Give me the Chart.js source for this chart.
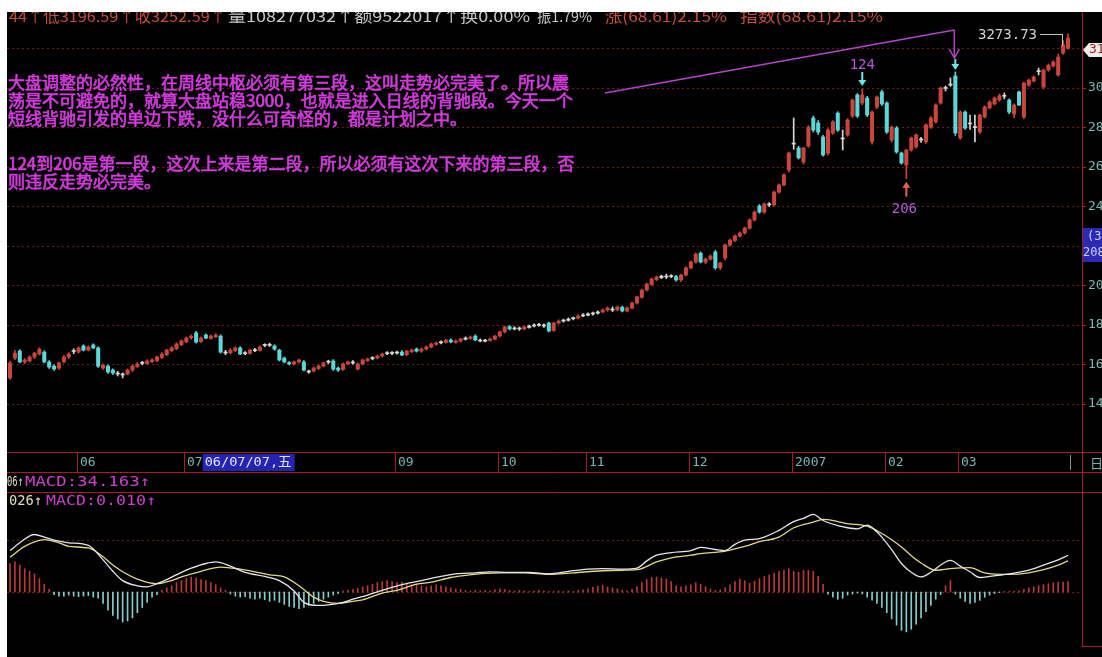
<!DOCTYPE html>
<html>
<head>
<meta charset="utf-8">
<title>上证指数 日线</title>
<script src="https://cdn.jsdelivr.net/npm/chart.js"></script>
<style>
  html, body { margin: 0; padding: 0; background: #fff; }
  #wrap { position: absolute; left: 7px; top: 12px; width: 1095px; height: 645px; background: #000; }
  canvas { display: block; }
</style>
</head>
<body>
<div id="wrap"><canvas id="kChart" width="1095" height="645"></canvas></div>
<script>
// page offset of the canvas (white strip on top and left)
const OX = 7, OY = 12;

// daily candles, May 2006 - Apr 2007
const opens = [
  1532,1633,1668,1613,1618,1638,1653,1663,1613,1592,
  1582,1613,1638,1666,1663,1694,1673,1699,1684,1582,
  1592,1572,1553,1548,1552,1572,1590,1606,1605,1615,
  1620,1636,1650,1670,1680,1700,1715,1736,1760,1716,
  1749,1732,1740,1744,1658,1660,1670,1684,1655,1656,
  1670,1672,1697,1697,1694,1673,1633,1610,1603,1613,
  1613,1562,1567,1580,1592,1612,1618,1582,1575,1603,
  1610,1577,1603,1620,1630,1633,1643,1655,1656,1658,
  1663,1650,1665,1678,1668,1678,1688,1702,1710,1712,
  1724,1712,1718,1728,1732,1744,1724,1718,1722,1728,
  1744,1765,1792,1780,1782,1780,1788,1795,1798,1797,
  1810,1772,1810,1820,1824,1832,1835,1846,1850,1856,
  1860,1866,1876,1880,1876,1890,1871,1886,1911,1940,
  1977,2005,2030,2040,2045,2045,2045,2028,2053,2089,
  2119,2164,2119,2134,2170,2090,2139,2205,2228,2250,
  2266,2290,2332,2403,2372,2410,2408,2473,2509,2585,
  2716,2696,2625,2706,2848,2823,2752,2671,2772,2873,
  2747,2762,2858,2965,2924,2949,2727,2904,2980,2924,
  2737,2797,2671,2610,2686,2701,2742,2727,2802,2828,
  2924,2998,3015,3061,2747,2878,2818,2800,2777,2853,
  2899,2919,2940,2958,2939,2868,2980,2853,3015,3035,
  3083,3005,3091,3112,3066,3177,3200
];
const highs = [
  1618,1672,1675,1630,1645,1662,1685,1670,1620,1598,
  1612,1645,1660,1680,1690,1700,1695,1705,1690,1602,
  1598,1578,1565,1558,1578,1598,1610,1616,1625,1630,
  1643,1660,1678,1690,1710,1725,1740,1750,1768,1740,
  1755,1750,1757,1750,1672,1680,1690,1690,1665,1678,
  1682,1695,1705,1708,1700,1678,1638,1615,1618,1628,
  1620,1572,1588,1598,1612,1622,1625,1588,1608,1618,
  1620,1608,1628,1633,1640,1648,1658,1665,1666,1668,
  1670,1672,1678,1684,1685,1695,1708,1714,1720,1728,
  1730,1725,1734,1740,1745,1750,1730,1728,1734,1748,
  1770,1795,1798,1792,1790,1796,1800,1806,1808,1806,
  1815,1815,1826,1830,1836,1840,1852,1858,1862,1866,
  1872,1882,1892,1892,1896,1896,1892,1916,1946,1982,
  2012,2038,2048,2052,2058,2055,2052,2058,2095,2125,
  2165,2170,2140,2155,2178,2118,2210,2235,2256,2272,
  2296,2338,2378,2410,2418,2420,2478,2515,2565,2676,
  2848,2705,2700,2810,2858,2835,2760,2795,2835,2880,
  2787,2845,2945,2972,2995,2958,2885,2960,2990,2930,
  2808,2805,2676,2690,2752,2768,2750,2818,2855,2920,
  3005,3010,3051,3081,2885,2885,2863,2863,2868,2910,
  2935,2955,2970,2975,2945,2920,2985,3030,3045,3062,
  3101,3096,3122,3138,3172,3240,3273.73
];
const lows = [
  1525,1625,1608,1605,1612,1630,1648,1608,1580,1570,
  1575,1608,1630,1655,1658,1668,1668,1680,1585,1575,
  1555,1550,1542,1532,1548,1565,1585,1598,1600,1610,
  1615,1630,1645,1665,1675,1695,1710,1728,1708,1712,
  1730,1728,1736,1658,1650,1655,1665,1650,1648,1652,
  1665,1668,1690,1692,1672,1618,1608,1598,1598,1608,
  1567,1555,1562,1575,1588,1605,1570,1565,1570,1598,
  1602,1572,1598,1615,1624,1628,1638,1650,1650,1652,
  1645,1645,1660,1663,1662,1673,1684,1698,1704,1708,
  1710,1708,1714,1724,1728,1720,1715,1714,1718,1724,
  1740,1760,1775,1775,1772,1776,1784,1790,1794,1788,
  1765,1768,1805,1815,1820,1826,1830,1842,1846,1850,
  1855,1862,1870,1868,1872,1866,1866,1882,1906,1936,
  1972,2000,2025,2035,2035,2040,2022,2020,2048,2084,
  2114,2114,2110,2128,2082,2080,2130,2198,2222,2245,
  2260,2285,2326,2366,2365,2400,2402,2468,2504,2575,
  2690,2640,2615,2700,2777,2765,2655,2660,2765,2780,
  2686,2755,2850,2850,2915,2855,2715,2895,2912,2770,
  2725,2670,2615,2541,2680,2695,2725,2720,2795,2822,
  2918,2985,3008,2760,2740,2790,2790,2727,2770,2848,
  2894,2914,2932,2945,2870,2850,2910,2845,3008,3030,
  3066,2995,3085,3106,3060,3170,3196.59
];
const closes = [
  1608,1658,1613,1623,1638,1658,1678,1613,1587,1577,
  1608,1638,1653,1668,1684,1673,1689,1684,1592,1597,
  1562,1557,1552,1547,1572,1592,1603,1608,1618,1623,
  1638,1653,1673,1684,1704,1719,1734,1744,1714,1734,
  1734,1744,1749,1663,1663,1673,1684,1653,1658,1673,
  1673,1689,1699,1699,1678,1623,1613,1603,1613,1623,
  1572,1567,1582,1592,1608,1613,1577,1572,1603,1613,
  1608,1603,1623,1628,1633,1643,1653,1658,1658,1663,
  1648,1668,1673,1668,1678,1689,1704,1709,1714,1724,
  1714,1719,1729,1734,1739,1724,1719,1724,1729,1744,
  1765,1790,1780,1785,1780,1790,1795,1800,1800,1795,
  1770,1810,1820,1825,1830,1835,1846,1851,1856,1861,
  1866,1876,1886,1876,1891,1871,1886,1911,1942,1977,
  2008,2033,2043,2048,2043,2048,2028,2053,2089,2119,
  2159,2119,2134,2149,2089,2114,2205,2230,2251,2266,
  2291,2332,2372,2372,2413,2408,2473,2509,2560,2671,
  2721,2646,2696,2802,2787,2777,2661,2787,2828,2787,
  2742,2838,2939,2858,2965,2863,2878,2954,2919,2777,
  2802,2676,2620,2686,2747,2762,2737,2813,2848,2914,
  3000,3000,3020,2772,2878,2797,2823,2802,2863,2904,
  2929,2949,2960,2960,2878,2914,2914,3025,3040,3056,
  3086,3091,3116,3132,3157,3218,3252.59
];

// MACD bars, one per candle
const macdBars = [
  55,58,52,45,40,35,26,15,5,-5,
  -8,-8,-6,-8,-9,-8,-7,-10,-12,-22,
  -35,-45,-52,-58,-56,-50,-40,-30,-20,-10,
  -5,3,8,12,18,22,26,29,27,24,
  22,18,14,8,3,-4,-8,-10,-9,-12,
  -14,-12,-15,-18,-16,-20,-24,-28,-30,-32,
  -30,-26,-22,-18,-14,-10,-6,-3,2,3,
  5,7,10,12,15,18,20,22,20,18,
  19,16,14,15,12,10,12,14,12,10,
  8,6,5,3,2,3,2,3,2,4,
  6,5,3,2,3,2,1,2,3,2,
  1,1,2,1,2,1,3,4,6,9,
  11,13,10,8,6,3,2,5,10,18,
  24,28,29,27,25,20,12,10,12,14,
  18,15,10,6,3,4,8,14,20,25,
  22,17,21,26,30,33,36,40,42,45,
  40,38,42,42,40,30,15,-4,-10,-14,
  -12,-6,-4,-2,-4,-10,-16,-22,-30,-40,
  -52,-64,-74,-77,-72,-62,-50,-38,-26,-14,
  -5,12,22,-4,-12,-18,-22,-20,-16,-10,
  -6,-3,-1,1,1,2,2,5,8,10,
  12,14,16,18,19,19,20
];

// DIF / DEA read at these candle indexes
const difIdx = [0,2,5,7,9,12,16,19,21,23,26,28,30,32,35,37,40,42,45,48,52,55,58,60,63,65,68,70,73,77,
  80,84,88,91,95,98,102,106,110,114,118,121,125,128,130,132,135,139,141,144,146,148,150,153,157,160,
  162,164,166,169,171,173,175,177,178,180,182,184,186,188,190,192,194,196,198,200,204,208,211,214,216];
const difVals = [80,95,111,106,100,95,90,62,40,22,12,10,16,24,38,46,55,58,50,38,30,22,2,-20,-26,-25,-20,-14,-6,6,
  14,22,30,35,37,39,38,38,35,40,44,45,44,46,60,71,76,80,86,82,80,92,100,103,119,136,
  142,150,138,128,124,122,129,116,106,82,55,38,29,38,52,61,50,39,28,30,35,42,52,62,71];
const deaIdx = [0,3,7,10,12,16,19,21,23,26,30,33,35,39,43,47,50,53,56,59,62,64,67,70,72,76,79,83,86,90,
  93,97,100,105,110,115,121,125,128,132,135,139,141,146,150,153,157,160,164,166,169,171,175,178,180,
  182,184,186,189,192,196,199,204,208,211,214,216];
const deaVals = [67,88,101,95,88,85,68,52,39,25,16,22,29,40,48,44,39,33,29,12,-10,-18,-22,-18,-15,-2,3,15,19,28,
  32,36,37,37,34,37,41,42,43,58,66,71,74,79,88,97,106,124,135,140,136,132,127,113,101,
  87,70,56,42,45,47,37,34,37,43,52,60];

const priceTicks = [1400, 1600, 1800, 2000, 2200, 2400, 2600, 2800, 3000, 3200];
const macdGrid = [0, 100];
const monthLabels = ['06', '07', '09', '10', '11', '12', '2007', '02', '03'];
const monthStart = [14, 36, 79, 100, 118, 139, 160, 179, 194];
const cursorDate = '06/07/07,五';

const headerTexts = ['44↑低3196.59↑收3252.59↑', '量108277032↑额9522017↑换0.00%', '振1.79%', '涨(68.61)2.15%', '指数(68.61)2.15%'];
const notes = [
  '大盘调整的必然性，在周线中枢必须有第三段，这叫走势必完美了。所以震',
  '荡是不可避免的，就算大盘站稳3000，也就是进入日线的背驰段。今天一个',
  '短线背驰引发的单边下跌，没什么可奇怪的，都是计划之中。',
  '124到206是第一段，这次上来是第二段，所以必须有这次下来的第三段，否',
  '则违反走势必完美。'
];

const UP = '#c8463c', DOWN = '#5cd6d6', FLAT = '#d8d8d8';
function candleColor(i) {
  const o = opens[i], c = closes[i];
  if (Math.abs(c - o) / c < 0.004) return FLAT;
  return c > o ? UP : DOWN;
}

function fitText(ctx, text, x, y, w) {
  const m = ctx.measureText(text).width;
  ctx.save();
  ctx.translate(x, y);
  ctx.scale(w / m, 1);
  ctx.fillText(text, 0, 0);
  ctx.restore();
}

function vArrow(ctx, x, yTail, yTip, color) {
  const d = yTip > yTail ? 1 : -1;
  ctx.strokeStyle = color;
  ctx.fillStyle = color;
  ctx.lineWidth = 2;
  ctx.beginPath(); ctx.moveTo(x, yTail); ctx.lineTo(x, yTip - d * 4); ctx.stroke();
  ctx.beginPath();
  ctx.moveTo(x - 4, yTip - d * 6); ctx.lineTo(x + 4, yTip - d * 6); ctx.lineTo(x, yTip);
  ctx.closePath(); ctx.fill();
}

const overlay = {
  id: 'overlay',
  beforeDatasetsDraw(chart) {
    const { ctx, chartArea } = chart;
    const y2 = chart.scales.y2;
    ctx.save();
    ctx.strokeStyle = '#6e1c1c';
    ctx.lineWidth = 1;
    ctx.setLineDash([2, 3]);
    macdGrid.forEach(v => {
      const yy = Math.round(y2.getPixelForValue(v)) + 0.5;
      ctx.beginPath(); ctx.moveTo(chartArea.left, yy); ctx.lineTo(chartArea.right, yy); ctx.stroke();
    });
    ctx.restore();
  },
  afterDraw(chart) {
    const ctx = chart.ctx;
    const xs = chart.scales.x, ys = chart.scales.y;
    const px = i => xs.getPixelForValue(i) + OX;
    const py = v => ys.getPixelForValue(v) + OY;
    const seg = (x1, y1, x2, y2) => { ctx.beginPath(); ctx.moveTo(x1, y1); ctx.lineTo(x2, y2); ctx.stroke(); };

    ctx.save();
    ctx.translate(-OX, -OY);   // work in page coordinates
    ctx.textBaseline = 'middle';

    // panel frames
    ctx.strokeStyle = '#a81c1c';
    ctx.lineWidth = 1;
    [452.5, 472.5, 492.5].forEach(yy => seg(7, yy, 1102, yy));
    seg(1082.5, 12, 1082.5, 647);
    seg(1082, 646.5, 1102, 646.5);

    // date row
    ctx.font = '13px "DejaVu Sans Mono"';
    ctx.textAlign = 'left';
    monthStart.forEach((i, k) => {
      const x0 = Math.round(px(i)) - 1.5;
      ctx.strokeStyle = '#a81c1c';
      seg(x0, 453, x0, 472);
      ctx.fillStyle = '#78b4b4';
      ctx.fillText(monthLabels[k], x0 + 2.5, 463);
    });
    const bx = Math.round(px(monthStart[1])) + 1 + ctx.measureText(monthLabels[1]).width;
    ctx.fillStyle = '#2424b0';
    ctx.fillRect(bx, 454, 92, 17);
    ctx.fillStyle = '#e4e4ff';
    ctx.font = '13px "DejaVu Sans Mono", "Noto Sans CJK SC"';
    fitText(ctx, cursorDate, bx + 2, 463, 87);
    ctx.strokeStyle = '#909090';
    seg(Math.round(px(216.5)) + 0.5, 455, Math.round(px(216.5)) + 0.5, 470);
    ctx.fillStyle = '#78b4b4';
    ctx.font = '13px "Noto Sans CJK SC"';
    ctx.fillText('日', 1090, 463);

    // top info line (top of the glyphs is cut by the white strip)
    const headX = [9, 228, 537, 605, 740];
    const headW = [217, 302, 55, 122, 143];
    const headC = ['#c4503c', '#c8c8c8', '#c8c8c8', '#c4503c', '#c4503c'];
    ctx.font = '15px "Noto Sans CJK SC"';
    headerTexts.forEach((t, k) => {
      ctx.fillStyle = headC[k];
      fitText(ctx, t, headX[k], 16, headW[k]);
    });

    // commentary
    const noteY = [83, 101, 119, 164, 182];
    ctx.font = '17px "Noto Sans CJK SC"';
    ctx.fillStyle = '#d23cdc';
    ctx.strokeStyle = '#d23cdc';
    ctx.lineWidth = 0.7;
    notes.forEach((t, k) => {
      ctx.fillText(t, 8, noteY[k]);
      ctx.strokeText(t, 8, noteY[k]);
    });

    // long pointer to the Feb peak
    const xPeak = px(193);
    ctx.strokeStyle = '#b444c8';
    ctx.lineWidth = 1.5;
    seg(605, 93, xPeak - 1, 30);
    seg(xPeak - 1, 30, xPeak - 1, 58);
    ctx.beginPath();
    ctx.moveTo(xPeak - 6, 49); ctx.lineTo(xPeak - 1, 58); ctx.lineTo(xPeak + 4, 49);
    ctx.stroke();

    // 124 / 206 marks
    const tip124 = py(highs[174]) - 3;
    vArrow(ctx, px(174), tip124 - 14, tip124, '#6ce4e4');
    const tip206 = py(lows[183]) + 3;
    vArrow(ctx, px(183), tip206 + 15, tip206, '#e06450');
    const tipPk = py(highs[193]) - 2;
    vArrow(ctx, xPeak, tipPk - 11, tipPk, '#6ce4e4');
    ctx.font = '14px "DejaVu Sans Mono"';
    ctx.textAlign = 'center';
    ctx.fillStyle = '#b45ad2';
    ctx.fillText('124', px(174), tip124 - 21);
    ctx.fillText('206', px(183) - 2, tip206 + 28);

    // max high label
    const xHi = px(216), yHi = py(highs[216]);
    ctx.textAlign = 'right';
    ctx.fillStyle = '#d2d2d2';
    ctx.fillText(highs[216].toFixed(2), 1037, yHi + 1);
    ctx.strokeStyle = '#c8c8c8';
    ctx.lineWidth = 1;
    seg(1040, yHi + 0.5, xHi - 5.5, yHi + 0.5);
    seg(xHi - 5.5, yHi, xHi - 5.5, yHi + 12);

    // right side tags
    ctx.textAlign = 'left';
    ctx.fillStyle = '#f2ecec';
    ctx.beginPath();
    ctx.moveTo(1083, 50); ctx.lineTo(1089, 43); ctx.lineTo(1102, 43); ctx.lineTo(1102, 57); ctx.lineTo(1089, 57);
    ctx.closePath(); ctx.fill();
    ctx.font = '13px "DejaVu Sans Mono"';
    ctx.fillStyle = '#a02020';
    ctx.fillText('3192', 1089, 50);
    ctx.fillStyle = '#2a2ab4';
    ctx.fillRect(1083, 228, 19, 34);
    ctx.fillStyle = '#d0d0ff';
    ctx.font = '12px "DejaVu Sans Mono"';
    ctx.fillText('(3', 1087, 237);
    ctx.fillText('2087', 1083, 253);

    // MACD captions
    ctx.font = '14px "DejaVu Sans Mono"';
    ctx.fillStyle = '#e0dcc0';
    fitText(ctx, '06↑', 7, 482, 16);
    fitText(ctx, '026↑', 9, 501, 33);
    ctx.fillStyle = '#c840c8';
    fitText(ctx, 'MACD:34.163↑', 25, 482, 125);
    fitText(ctx, 'MACD:0.010↑', 46, 501, 110);

    ctx.restore();
  }
};

const idx = closes.map((_, i) => i);
const colors = idx.map(candleColor);

new Chart(document.getElementById('kChart'), {
  type: 'bar',
  data: {
    datasets: [
      {
        label: 'body',
        data: idx.map(i => ({ x: i, y: [opens[i], closes[i]] })),
        backgroundColor: colors,
        borderWidth: 0,
        barThickness: 3.4,
        minBarLength: 1,
        grouped: false,
        yAxisID: 'y',
        order: 0
      },
      {
        label: 'wick',
        data: idx.map(i => ({ x: i, y: [lows[i], highs[i]] })),
        backgroundColor: colors,
        borderWidth: 0,
        barThickness: 1,
        grouped: false,
        yAxisID: 'y',
        order: 1
      },
      {
        type: 'line',
        label: 'DIF',
        data: difIdx.map((x, k) => ({ x: x, y: difVals[k] })),
        borderColor: '#e6e6e6',
        borderWidth: 1.3,
        pointRadius: 0,
        cubicInterpolationMode: 'monotone',
        yAxisID: 'y2',
        order: 2
      },
      {
        type: 'line',
        label: 'DEA',
        data: deaIdx.map((x, k) => ({ x: x, y: deaVals[k] })),
        borderColor: '#e2d68a',
        borderWidth: 1.3,
        pointRadius: 0,
        cubicInterpolationMode: 'monotone',
        yAxisID: 'y2',
        order: 3
      },
      {
        label: 'MACD',
        data: macdBars.map((v, i) => ({ x: i, y: v })),
        backgroundColor: macdBars.map(v => v > 0 ? '#b83a3a' : '#86cccc'),
        borderWidth: 0,
        barThickness: 1,
        grouped: false,
        yAxisID: 'y2',
        order: 4
      }
    ]
  },
  options: {
    responsive: false,
    animation: false,
    devicePixelRatio: 1,
    events: [],
    layout: { padding: 0 },
    plugins: { legend: { display: false }, tooltip: { enabled: false } },
    scales: {
      x: {
        type: 'linear',
        min: -0.6125,
        max: 218.86,
        bounds: 'data',
        offset: false,
        display: false,
        grid: { offset: false }
      },
      y: {
        type: 'linear',
        position: 'right',
        min: 119.2,
        max: 3384.8,
        bounds: 'data',
        afterBuildTicks: s => { s.ticks = priceTicks.map(v => ({ value: v })); },
        afterFit: s => { s.width = 20; s.paddingTop = 0; s.paddingBottom = 0; },
        grid: { color: '#6e1c1c', tickColor: '#b02020', tickLength: 4, tickBorderDash: [] },
        border: { display: false, dash: [2, 3] },
        ticks: {
          color: '#7ab8b0',
          font: { family: 'DejaVu Sans Mono', size: 13 },
          padding: 2,
          autoSkip: false,
          maxRotation: 0,
          callback: v => String(v)
        }
      },
      y2: {
        type: 'linear',
        min: -125.5,
        max: 1119.7,
        bounds: 'data',
        display: false
      }
    }
  },
  plugins: [overlay]
});
</script>
</body>
</html>
